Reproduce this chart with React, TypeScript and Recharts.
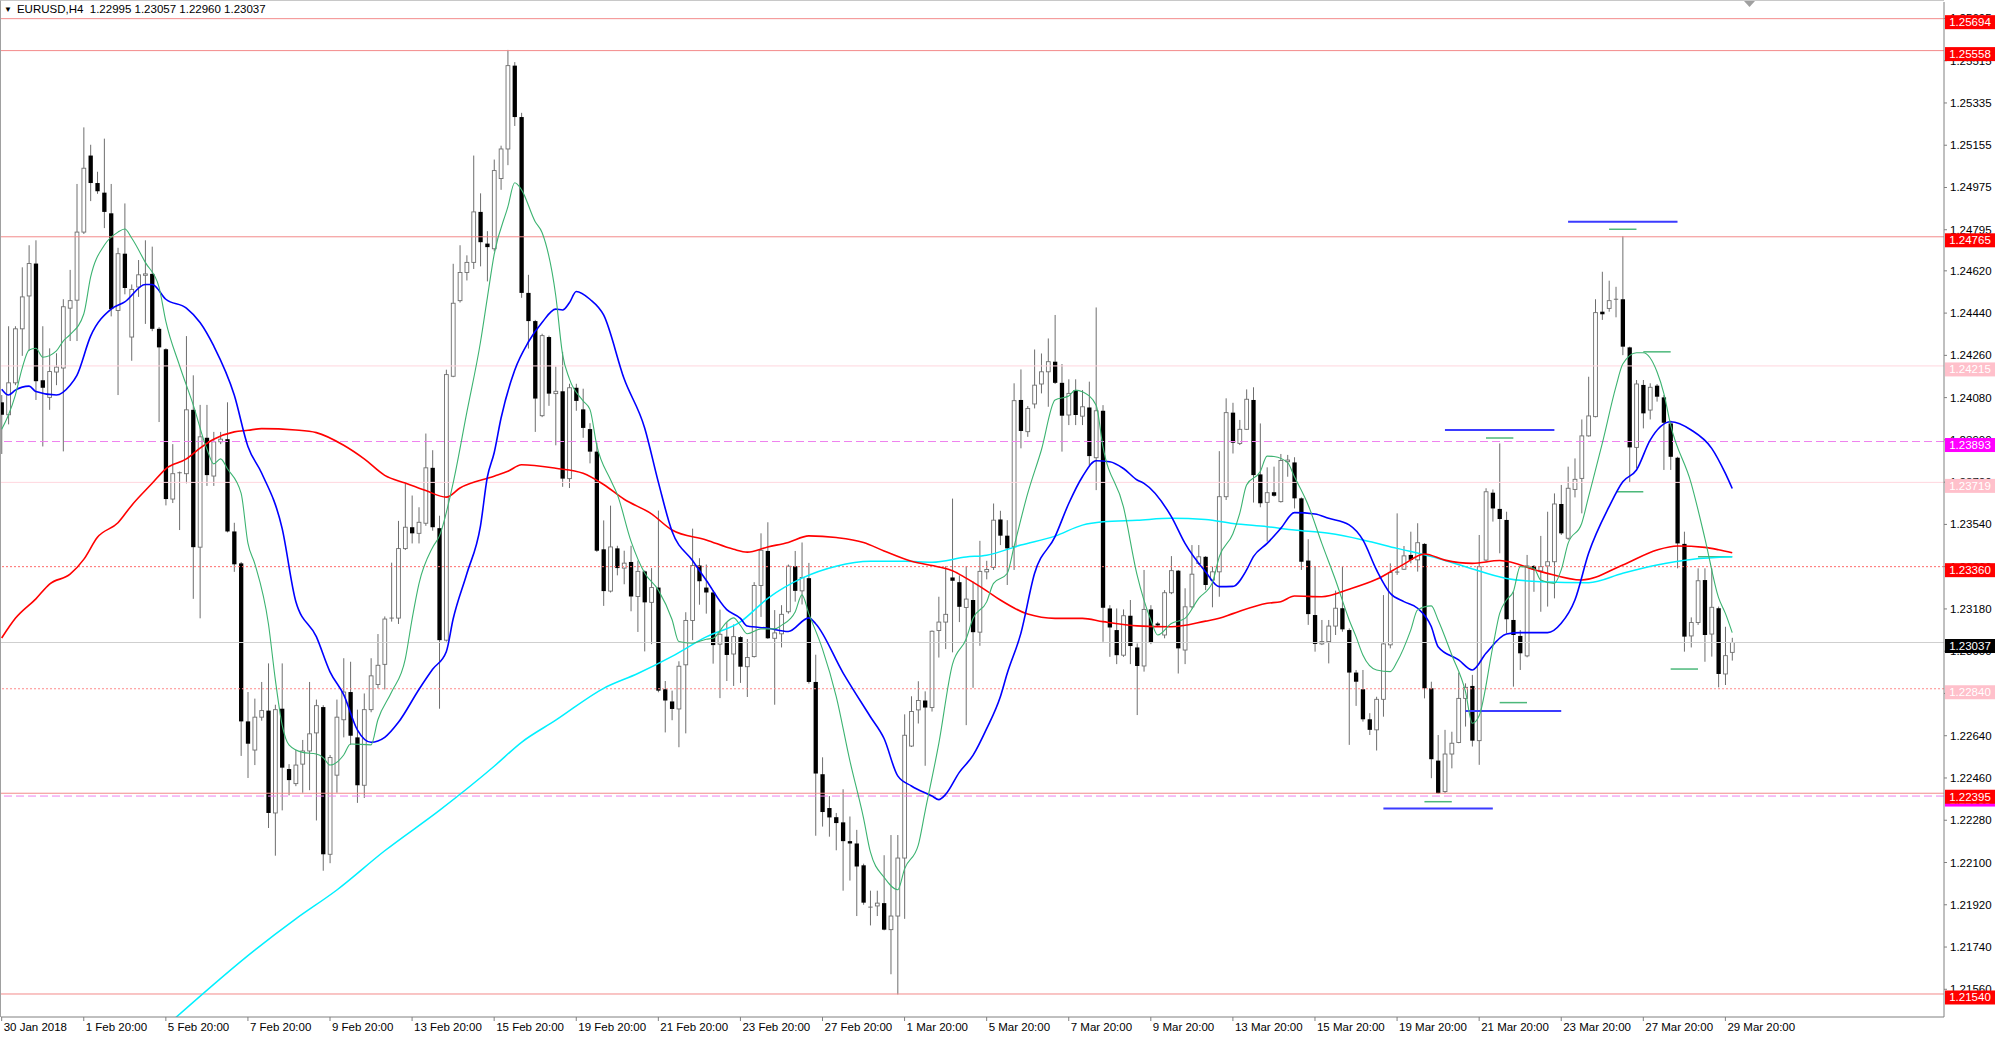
import { ComposedChart, Bar, Line, XAxis, YAxis, ReferenceLine } from 'recharts';

const FONT = '"Liberation Sans", Arial, sans-serif';

const symbol = 'EURUSD,H4';

// H4 candles, [open, high, low, close], 30 Jan 2018 20:00 .. 30 Mar 2018 00:00
const candles: [number, number, number, number][] = [
  [1.24060, 1.24091, 1.23840, 1.24007], [1.24007, 1.24384, 1.23966, 1.24143], [1.24143, 1.24384, 1.24133, 1.24373],
  [1.24373, 1.24635, 1.24258, 1.24509], [1.24513, 1.24729, 1.24279, 1.24651], [1.24651, 1.24750, 1.24070, 1.24150],
  [1.24154, 1.24384, 1.23872, 1.24122], [1.24081, 1.24290, 1.24028, 1.24191], [1.24189, 1.24269, 1.24133, 1.24210],
  [1.24206, 1.24499, 1.23851, 1.24467], [1.24461, 1.24624, 1.24321, 1.24493], [1.24495, 1.24990, 1.24321, 1.24785],
  [1.24785, 1.25231, 1.24777, 1.25057], [1.25111, 1.25157, 1.24917, 1.24994], [1.24994, 1.25042, 1.24948, 1.24959],
  [1.24953, 1.25183, 1.24802, 1.24871], [1.24865, 1.24990, 1.24426, 1.24457], [1.24451, 1.24718, 1.24091, 1.24693],
  [1.24693, 1.24907, 1.24520, 1.24547], [1.24338, 1.24562, 1.24237, 1.24541], [1.24551, 1.24666, 1.24509, 1.24603],
  [1.24601, 1.24750, 1.24394, 1.24607], [1.24607, 1.24723, 1.24363, 1.24373], [1.24373, 1.24380, 1.23976, 1.24294],
  [1.24286, 1.24290, 1.23621, 1.23648], [1.23648, 1.23882, 1.23631, 1.23756], [1.23756, 1.23765, 1.23516, 1.23760],
  [1.23756, 1.24342, 1.23715, 1.24028], [1.24028, 1.24175, 1.23223, 1.23443], [1.23443, 1.24049, 1.23140, 1.23913],
  [1.23909, 1.24049, 1.23704, 1.23750], [1.23746, 1.23934, 1.23704, 1.23892], [1.23892, 1.23934, 1.23882, 1.23903],
  [1.23903, 1.24060, 1.23506, 1.23510], [1.23510, 1.23547, 1.23338, 1.23370], [1.23374, 1.23380, 1.22554, 1.22701],
  [1.22701, 1.22826, 1.22460, 1.22606], [1.22579, 1.22798, 1.22515, 1.22719], [1.22719, 1.22869, 1.22704, 1.22747],
  [1.22747, 1.22948, 1.22247, 1.22311], [1.22311, 1.22772, 1.22129, 1.22751], [1.22755, 1.22948, 1.22322, 1.22504],
  [1.22498, 1.22519, 1.22386, 1.22451], [1.22436, 1.22579, 1.22425, 1.22515], [1.22519, 1.22622, 1.22397, 1.22575],
  [1.22575, 1.22869, 1.22408, 1.22648], [1.22652, 1.22794, 1.22279, 1.22768], [1.22762, 1.22770, 1.22065, 1.22135],
  [1.22135, 1.22558, 1.22097, 1.22547], [1.22472, 1.22794, 1.22397, 1.22719], [1.22708, 1.22970, 1.22633, 1.22826],
  [1.22826, 1.22955, 1.22601, 1.22640], [1.22633, 1.22751, 1.22354, 1.22429], [1.22429, 1.22820, 1.22375, 1.22751],
  [1.22751, 1.22970, 1.22740, 1.22895], [1.22858, 1.23073, 1.22841, 1.22940], [1.22944, 1.23148, 1.22837, 1.23137],
  [1.23137, 1.23377, 1.23126, 1.23141], [1.23141, 1.23555, 1.23116, 1.23437], [1.23437, 1.23712, 1.23431, 1.23528],
  [1.23528, 1.23663, 1.23459, 1.23502], [1.23502, 1.23613, 1.23459, 1.23549], [1.23545, 1.23927, 1.23534, 1.23781],
  [1.23781, 1.23856, 1.23513, 1.23528], [1.23524, 1.23577, 1.22755, 1.23047], [1.23047, 1.24199, 1.23041, 1.24178],
  [1.24171, 1.24650, 1.24167, 1.24482], [1.24493, 1.24729, 1.24485, 1.24613], [1.24613, 1.24686, 1.24579, 1.24656],
  [1.24656, 1.25111, 1.24628, 1.24871], [1.24871, 1.24950, 1.24639, 1.24742], [1.24736, 1.24789, 1.24575, 1.24721],
  [1.24714, 1.25094, 1.24703, 1.25047], [1.25013, 1.25153, 1.24965, 1.25139], [1.25139, 1.25561, 1.25070, 1.25494],
  [1.25494, 1.25509, 1.25237, 1.25275], [1.25275, 1.25293, 1.24505, 1.24526], [1.24526, 1.24603, 1.24289, 1.24406],
  [1.24406, 1.24411, 1.23934, 1.24076], [1.24003, 1.24352, 1.23997, 1.24344], [1.24338, 1.24344, 1.24045, 1.24097],
  [1.24097, 1.24212, 1.23877, 1.24107], [1.24107, 1.24275, 1.23700, 1.23735], [1.23735, 1.24139, 1.23695, 1.24122],
  [1.24122, 1.24139, 1.24024, 1.24066], [1.24030, 1.24118, 1.23909, 1.23951], [1.23946, 1.23971, 1.23800, 1.23850],
  [1.23850, 1.23888, 1.23423, 1.23428], [1.23434, 1.23557, 1.23193, 1.23256], [1.23256, 1.23620, 1.23250, 1.23444],
  [1.23438, 1.23449, 1.23323, 1.23354], [1.23354, 1.23428, 1.23285, 1.23375], [1.23380, 1.23449, 1.23170, 1.23233],
  [1.23233, 1.23386, 1.23082, 1.23340], [1.23340, 1.23344, 1.22999, 1.23208], [1.23208, 1.23354, 1.23030, 1.23271],
  [1.23271, 1.23599, 1.22825, 1.22832], [1.22838, 1.22873, 1.22654, 1.22790], [1.22786, 1.22832, 1.22706, 1.22754],
  [1.22754, 1.22957, 1.22591, 1.22936], [1.22942, 1.23166, 1.22650, 1.23131], [1.23131, 1.23522, 1.23047, 1.23365],
  [1.23365, 1.23396, 1.23198, 1.23298], [1.23271, 1.23369, 1.23160, 1.23250], [1.23250, 1.23260, 1.22947, 1.23026],
  [1.23030, 1.23177, 1.22800, 1.23072], [1.23062, 1.23124, 1.22873, 1.22984], [1.22988, 1.23114, 1.22852, 1.23062],
  [1.23060, 1.23064, 1.22865, 1.22934], [1.22934, 1.23052, 1.22805, 1.22973], [1.22977, 1.23294, 1.22973, 1.23280],
  [1.23280, 1.23502, 1.23146, 1.23430], [1.23427, 1.23549, 1.23052, 1.23055], [1.23055, 1.23175, 1.22772, 1.23078],
  [1.23074, 1.23196, 1.23016, 1.23157], [1.23168, 1.23369, 1.23160, 1.23362], [1.23362, 1.23427, 1.23211, 1.23257],
  [1.23257, 1.23463, 1.23199, 1.23314], [1.23311, 1.23376, 1.22862, 1.22869], [1.22869, 1.22985, 1.22214, 1.22479],
  [1.22476, 1.22548, 1.22253, 1.22315], [1.22332, 1.22383, 1.22210, 1.22292], [1.22293, 1.22311, 1.22152, 1.22268],
  [1.22271, 1.22412, 1.21980, 1.22191], [1.22191, 1.22296, 1.22023, 1.22181], [1.22181, 1.22239, 1.21872, 1.22083],
  [1.22088, 1.22095, 1.21920, 1.21929], [1.21908, 1.21980, 1.21832, 1.21910], [1.21915, 1.21980, 1.21872, 1.21927],
  [1.21927, 1.22131, 1.21811, 1.21814], [1.21814, 1.22217, 1.21624, 1.21872], [1.21872, 1.22217, 1.21538, 1.22119],
  [1.22119, 1.22731, 1.21860, 1.22642], [1.22596, 1.22808, 1.22592, 1.22743], [1.22750, 1.22872, 1.22692, 1.22790],
  [1.22790, 1.22829, 1.22512, 1.22760], [1.22760, 1.23088, 1.22743, 1.23085], [1.23088, 1.23232, 1.22973, 1.23124],
  [1.23124, 1.23362, 1.23009, 1.23157], [1.23314, 1.23650, 1.22995, 1.23300], [1.23294, 1.23323, 1.23124, 1.23189],
  [1.23186, 1.23362, 1.22685, 1.23222], [1.23218, 1.23297, 1.22844, 1.23081], [1.23081, 1.23470, 1.23023, 1.23340],
  [1.23338, 1.23385, 1.23306, 1.23348], [1.23357, 1.23629, 1.23346, 1.23558], [1.23561, 1.23598, 1.23452, 1.23492],
  [1.23492, 1.23558, 1.23282, 1.23438], [1.23445, 1.24141, 1.23346, 1.24067], [1.24070, 1.24200, 1.23864, 1.23938],
  [1.23935, 1.24044, 1.23913, 1.24034], [1.24053, 1.24285, 1.24034, 1.24133], [1.24138, 1.24268, 1.24098, 1.24190],
  [1.24190, 1.24332, 1.24041, 1.24233], [1.24233, 1.24432, 1.24138, 1.24143], [1.24143, 1.24223, 1.23850, 1.24003],
  [1.24006, 1.24158, 1.23963, 1.24098], [1.24112, 1.24158, 1.23963, 1.24006], [1.24001, 1.24112, 1.23963, 1.24041],
  [1.24038, 1.24148, 1.23788, 1.23831], [1.23824, 1.24464, 1.23686, 1.24024], [1.24024, 1.24048, 1.23040, 1.23185],
  [1.23182, 1.23196, 1.22976, 1.23101], [1.23090, 1.23182, 1.22945, 1.22983], [1.22983, 1.23178, 1.22976, 1.23151],
  [1.23151, 1.23218, 1.22945, 1.23022], [1.23016, 1.23033, 1.22728, 1.22937], [1.22937, 1.23346, 1.22913, 1.23178],
  [1.23178, 1.23196, 1.23030, 1.23036], [1.23118, 1.23125, 1.23104, 1.23110], [1.23069, 1.23260, 1.23055, 1.23249],
  [1.23249, 1.23405, 1.23243, 1.23343], [1.23343, 1.23346, 1.22905, 1.23012], [1.23005, 1.23268, 1.22945, 1.23189],
  [1.23189, 1.23452, 1.23182, 1.23328], [1.23374, 1.23452, 1.23367, 1.23402], [1.23402, 1.23405, 1.23260, 1.23282],
  [1.23303, 1.23360, 1.23187, 1.23338], [1.23338, 1.23852, 1.23232, 1.23658], [1.23658, 1.24077, 1.23644, 1.24016],
  [1.24016, 1.24058, 1.23842, 1.23888], [1.23885, 1.23985, 1.23878, 1.23945], [1.23945, 1.24115, 1.23942, 1.24073],
  [1.24070, 1.24124, 1.23633, 1.23750], [1.23753, 1.23970, 1.23613, 1.23630], [1.23634, 1.23783, 1.23467, 1.23675],
  [1.23677, 1.23786, 1.23658, 1.23662], [1.23637, 1.23840, 1.23633, 1.23812], [1.23807, 1.23836, 1.23743, 1.23814],
  [1.23804, 1.23826, 1.23608, 1.23651], [1.23651, 1.23655, 1.23346, 1.23381], [1.23386, 1.23477, 1.23112, 1.23158],
  [1.23154, 1.23363, 1.22998, 1.23031], [1.23031, 1.23133, 1.23026, 1.23041], [1.23041, 1.23133, 1.22948, 1.23107],
  [1.23107, 1.23258, 1.23069, 1.23183], [1.23183, 1.23363, 1.23083, 1.23093], [1.23090, 1.23097, 1.22601, 1.22909],
  [1.22909, 1.22920, 1.22767, 1.22870], [1.22838, 1.22920, 1.22700, 1.22710], [1.22710, 1.22736, 1.22643, 1.22665],
  [1.22665, 1.22806, 1.22577, 1.22795], [1.22795, 1.23239, 1.22721, 1.23031], [1.23027, 1.23374, 1.23012, 1.23335],
  [1.23335, 1.23587, 1.23325, 1.23337], [1.23349, 1.23448, 1.23346, 1.23406], [1.23410, 1.23509, 1.23374, 1.23389],
  [1.23389, 1.23545, 1.23339, 1.23462], [1.23457, 1.23460, 1.22799, 1.22842], [1.22842, 1.22870, 1.22459, 1.22540],
  [1.22534, 1.22643, 1.22392, 1.22395], [1.22402, 1.22665, 1.22395, 1.22562], [1.22562, 1.22657, 1.22501, 1.22608],
  [1.22611, 1.22909, 1.22608, 1.22799], [1.22799, 1.22863, 1.22679, 1.22846], [1.22852, 1.22899, 1.22594, 1.22619],
  [1.22619, 1.23495, 1.22516, 1.23360], [1.23388, 1.23694, 1.23381, 1.23679], [1.23675, 1.23689, 1.23552, 1.23608],
  [1.23606, 1.23885, 1.23417, 1.23563], [1.23559, 1.23594, 1.23076, 1.23136], [1.23133, 1.23254, 1.22849, 1.23069],
  [1.23065, 1.23090, 1.22920, 1.22991], [1.22980, 1.23410, 1.22974, 1.23363], [1.23363, 1.23367, 1.23253, 1.23346],
  [1.23342, 1.23491, 1.23168, 1.23360], [1.23363, 1.23594, 1.23190, 1.23381], [1.23381, 1.23672, 1.23225, 1.23627],
  [1.23627, 1.23708, 1.23495, 1.23502], [1.23481, 1.23786, 1.23474, 1.23694], [1.23689, 1.23821, 1.23655, 1.23732],
  [1.23736, 1.23987, 1.23587, 1.23917], [1.23917, 1.24169, 1.23914, 1.24002], [1.23999, 1.24499, 1.23996, 1.24442],
  [1.24446, 1.24616, 1.24411, 1.24435], [1.24460, 1.24578, 1.24446, 1.24493], [1.24496, 1.24552, 1.24422, 1.24499],
  [1.24499, 1.24768, 1.24261, 1.24297], [1.24294, 1.24297, 1.23718, 1.23868], [1.23868, 1.24155, 1.23779, 1.24138],
  [1.24134, 1.24155, 1.23949, 1.24013], [1.24027, 1.24141, 1.23987, 1.24124], [1.24131, 1.24138, 1.24063, 1.24084],
  [1.24081, 1.24091, 1.23772, 1.23973], [1.23970, 1.23982, 1.23772, 1.23828], [1.23824, 1.23828, 1.23353, 1.23459],
  [1.23457, 1.23509, 1.22998, 1.23062], [1.23065, 1.23144, 1.23016, 1.23122], [1.23122, 1.23353, 1.23112, 1.23300],
  [1.23303, 1.23353, 1.22955, 1.23069], [1.23073, 1.23353, 1.22977, 1.23187], [1.23183, 1.23190, 1.22846, 1.22903],
  [1.22903, 1.23104, 1.22856, 1.22981], [1.22995, 1.23057, 1.22960, 1.23037],
];

// moving averages: [bar index, price]
const maFast: [number, number][] = [
  [0, 1.23945], [1, 1.24007], [2, 1.24091], [3, 1.24206], [4, 1.24283], [5, 1.24290], [6, 1.24252], [8, 1.24279],
  [9, 1.24321], [10, 1.24348], [12, 1.24436], [13, 1.24593], [15, 1.24729], [17, 1.24785], [18, 1.24798], [19, 1.24760],
  [21, 1.24656], [23, 1.24551], [24, 1.24405], [26, 1.24217], [28, 1.24049], [30, 1.23861], [31, 1.23798], [32, 1.23819],
  [33, 1.23777], [35, 1.23673], [36, 1.23460], [37, 1.23373], [39, 1.23116], [40, 1.22880], [41, 1.22686], [42, 1.22601],
  [44, 1.22569], [46, 1.22562], [47, 1.22547], [48, 1.22515], [50, 1.22558], [51, 1.22605], [54, 1.22601], [55, 1.22708],
  [57, 1.22826], [59, 1.22966], [60, 1.23137], [61, 1.23287], [63, 1.23442], [64, 1.23491], [66, 1.23716], [68, 1.24017],
  [70, 1.24317], [71, 1.24505], [72, 1.24690], [74, 1.24892], [75, 1.24995], [76, 1.24965], [78, 1.24829], [79, 1.24783],
  [81, 1.24515], [82, 1.24264], [83, 1.24160], [85, 1.24066], [86, 1.24030], [87, 1.23877], [89, 1.23731], [90, 1.23668],
  [92, 1.23469], [94, 1.23333], [96, 1.23260], [98, 1.23135], [99, 1.23041], [101, 1.23034], [103, 1.23051], [104, 1.23055],
  [106, 1.23124], [107, 1.23142], [108, 1.23110], [109, 1.23074], [111, 1.23095], [113, 1.23095], [114, 1.23110],
  [116, 1.23167], [117, 1.23240], [118, 1.23160], [120, 1.23009], [122, 1.22808], [124, 1.22534], [126, 1.22289],
  [127, 1.22145], [129, 1.22037], [131, 1.21984], [132, 1.22073], [134, 1.22174], [135, 1.22318], [137, 1.22606],
  [139, 1.22944], [141, 1.23052], [142, 1.23139], [144, 1.23210], [145, 1.23289], [147, 1.23331], [148, 1.23445],
  [150, 1.23672], [152, 1.23857], [154, 1.24070], [156, 1.24087], [157, 1.24112], [158, 1.24105], [160, 1.24048],
  [161, 1.23871], [164, 1.23615], [166, 1.23324], [168, 1.23133], [169, 1.23069], [171, 1.23118], [173, 1.23140],
  [175, 1.23225], [177, 1.23292], [178, 1.23402], [180, 1.23500], [181, 1.23587], [182, 1.23708], [184, 1.23765],
  [185, 1.23831], [186, 1.23829], [188, 1.23803], [189, 1.23743], [191, 1.23623], [193, 1.23459], [195, 1.23303],
  [197, 1.23133], [198, 1.23062], [199, 1.22984], [201, 1.22920], [203, 1.22913], [204, 1.22955], [206, 1.23090],
  [207, 1.23176], [209, 1.23193], [210, 1.23133], [212, 1.22984], [214, 1.22828], [215, 1.22693], [216, 1.22725],
  [218, 1.23019], [219, 1.23161], [220, 1.23218], [221, 1.23254], [222, 1.23360], [224, 1.23353], [225, 1.23303],
  [227, 1.23289], [228, 1.23346], [229, 1.23459], [231, 1.23545], [232, 1.23658], [234, 1.23885], [236, 1.24127],
  [237, 1.24223], [239, 1.24271], [240, 1.24271], [242, 1.24190], [243, 1.24098], [244, 1.23963], [247, 1.23715],
  [249, 1.23481], [251, 1.23228], [252, 1.23161], [253, 1.23079],
];

const maMid: [number, number][] = [
  [0, 1.24116], [1, 1.24091], [2, 1.24112], [4, 1.24129], [5, 1.24106], [8, 1.24091], [10, 1.24133], [11, 1.24175],
  [13, 1.24342], [16, 1.24457], [18, 1.24488], [21, 1.24562], [22, 1.24562], [24, 1.24499], [27, 1.24461], [29, 1.24400],
  [31, 1.24300], [34, 1.24091], [36, 1.23872], [38, 1.23759], [41, 1.23523], [43, 1.23212], [46, 1.23062], [48, 1.22912],
  [50, 1.22815], [52, 1.22665], [54, 1.22612], [56, 1.22633], [58, 1.22697], [61, 1.22837], [63, 1.22923], [65, 1.22998],
  [66, 1.23137], [68, 1.23330], [70, 1.23534], [71, 1.23741], [72, 1.23845], [73, 1.23992], [75, 1.24197], [77, 1.24317],
  [79, 1.24400], [81, 1.24457], [82, 1.24453], [83, 1.24484], [84, 1.24532], [86, 1.24499], [88, 1.24432], [91, 1.24160],
  [94, 1.23951], [96, 1.23720], [98, 1.23511], [101, 1.23386], [103, 1.23302], [106, 1.23177], [108, 1.23140],
  [109, 1.23107], [112, 1.23098], [115, 1.23084], [118, 1.23142], [119, 1.23117], [123, 1.22908], [127, 1.22721],
  [129, 1.22628], [131, 1.22469], [133, 1.22426], [136, 1.22383], [137, 1.22368], [138, 1.22390], [140, 1.22484],
  [142, 1.22556], [144, 1.22670], [146, 1.22806], [147, 1.22905], [149, 1.23076], [151, 1.23331], [154, 1.23488],
  [156, 1.23629], [158, 1.23743], [160, 1.23811], [162, 1.23807], [164, 1.23778], [166, 1.23729], [167, 1.23715],
  [171, 1.23573], [173, 1.23459], [176, 1.23338], [178, 1.23275], [180, 1.23276], [182, 1.23346], [183, 1.23403],
  [185, 1.23459], [187, 1.23523], [189, 1.23590], [192, 1.23584], [194, 1.23566], [197, 1.23538], [199, 1.23474],
  [201, 1.23346], [203, 1.23247], [205, 1.23211], [207, 1.23183], [209, 1.23105], [210, 1.23019], [213, 1.22963],
  [215, 1.22920], [217, 1.22991], [220, 1.23073], [222, 1.23079], [226, 1.23079], [228, 1.23119], [230, 1.23218],
  [232, 1.23417], [235, 1.23616], [237, 1.23722], [239, 1.23772], [241, 1.23899], [244, 1.23977], [247, 1.23942],
  [250, 1.23864], [252, 1.23757], [253, 1.23693],
];

const maSlow: [number, number][] = [
  [0, 1.23056], [2, 1.23140], [5, 1.23223], [7, 1.23286], [10, 1.23328], [12, 1.23391], [14, 1.23485], [17, 1.23547],
  [19, 1.23621], [22, 1.23715], [24, 1.23777], [27, 1.23819], [29, 1.23865], [31, 1.23903], [34, 1.23934], [36, 1.23941],
  [38, 1.23948], [43, 1.23942], [46, 1.23931], [50, 1.23877], [53, 1.23819], [56, 1.23749], [59, 1.23716], [62, 1.23684],
  [65, 1.23656], [67, 1.23695], [72, 1.23745], [74, 1.23766], [76, 1.23794], [81, 1.23779], [85, 1.23758], [88, 1.23710],
  [91, 1.23647], [95, 1.23585], [98, 1.23516], [103, 1.23474], [107, 1.23434], [109, 1.23422], [112, 1.23444],
  [115, 1.23463], [118, 1.23491], [122, 1.23484], [126, 1.23463], [129, 1.23427], [133, 1.23383], [137, 1.23359],
  [139, 1.23343], [141, 1.23311], [144, 1.23257], [146, 1.23218], [150, 1.23158], [154, 1.23140], [158, 1.23140],
  [161, 1.23126], [166, 1.23108], [171, 1.23104], [176, 1.23128], [178, 1.23140], [180, 1.23160], [185, 1.23204],
  [187, 1.23211], [189, 1.23235], [193, 1.23232], [197, 1.23264], [201, 1.23306], [205, 1.23371], [208, 1.23414],
  [211, 1.23388], [215, 1.23374], [219, 1.23386], [225, 1.23339], [231, 1.23303], [237, 1.23367], [242, 1.23431],
  [245, 1.23448], [249, 1.23442], [251, 1.23432], [253, 1.23419],
];

const maLong: [number, number][] = [
  [25, 1.21428], [37, 1.21727], [43, 1.21860], [49, 1.21983], [56, 1.22150], [64, 1.22322], [72, 1.22510], [76, 1.22612],
  [81, 1.22706], [88, 1.22842], [93, 1.22905], [98, 1.22978], [103, 1.23061], [108, 1.23125], [112, 1.23225],
  [117, 1.23311], [122, 1.23362], [127, 1.23383], [132, 1.23383], [136, 1.23379], [141, 1.23401], [144, 1.23409],
  [149, 1.23452], [154, 1.23490], [158, 1.23537], [161, 1.23551], [166, 1.23558], [171, 1.23566], [176, 1.23561],
  [180, 1.23544], [185, 1.23530], [189, 1.23516], [194, 1.23502], [199, 1.23474], [204, 1.23438], [209, 1.23403],
  [214, 1.23360], [220, 1.23310], [225, 1.23296], [232, 1.23292], [237, 1.23332], [242, 1.23367], [247, 1.23391],
  [253, 1.23402],
];

// short level markers: [from bar, to bar, price]
const blueLevels: [number, number, number][] = [
  [229, 245, 1.24829], [211, 227, 1.23942], [214, 228, 1.22745], [202, 218, 1.22330],
];
const greenLevels: [number, number, number][] = [
  [235, 239, 1.24797], [240, 244, 1.24275], [236, 240, 1.23679], [244, 248, 1.22924],
  [248, 253, 1.23402], [217, 221, 1.23908], [219, 223, 1.22781], [208, 212, 1.22359],
];

// horizontal price lines with their axis tags
const levels = [1.25694, 1.25558, 1.24765, 1.24215, 1.23893, 1.23719, 1.23360, 1.23037, 1.22840, 1.22383, 1.22395, 1.21540];

const priceTicks = [
  1.25695, 1.25515, 1.25335, 1.25155, 1.24975, 1.24795, 1.24620, 1.24440, 1.24260, 1.24080, 1.23900, 1.23720,
  1.23540, 1.23360, 1.23180, 1.23000, 1.22820, 1.22640, 1.22460, 1.22280, 1.22100, 1.21920, 1.21740, 1.21560,
];

const dateTicks = [0, 12, 24, 36, 48, 60, 72, 84, 96, 108, 120, 132, 144, 156, 168, 180, 192, 204, 216, 228, 240, 252];
const dateLabels = [
  '30 Jan 2018', '1 Feb 20:00', '5 Feb 20:00', '7 Feb 20:00', '9 Feb 20:00', '13 Feb 20:00', '15 Feb 20:00',
  '19 Feb 20:00', '21 Feb 20:00', '23 Feb 20:00', '27 Feb 20:00', '1 Mar 20:00', '5 Mar 20:00', '7 Mar 20:00',
  '9 Mar 20:00', '13 Mar 20:00', '15 Mar 20:00', '19 Mar 20:00', '21 Mar 20:00', '23 Mar 20:00', '27 Mar 20:00',
  '29 Mar 20:00',
];

const X_DOMAIN: [number, number] = [-0.1, 283.96];
const Y_DOMAIN: [number, number] = [1.21442, 1.25765];
const MARGIN = { top: 2, right: 0, bottom: 0, left: 1 };

// line look for each entry of `levels`
const levelStyle = [
  { stroke: '#f38b8b', dash: undefined, tag: '#ff0000' },
  { stroke: '#f38b8b', dash: undefined, tag: '#ff0000' },
  { stroke: '#f38b8b', dash: undefined, tag: '#ff0000' },
  { stroke: '#ffd6de', dash: undefined, tag: '#ffc0cb' },
  { stroke: '#ee82ee', dash: '8 4', tag: '#ff00ff' },
  { stroke: '#ffd6de', dash: undefined, tag: '#ffc0cb' },
  { stroke: '#ff6a6a', dash: '2 2', tag: '#ff0000' },
  { stroke: '#cfcfcf', dash: undefined, tag: '#000000' },
  { stroke: '#ff8a8a', dash: '2 2', tag: '#ffc0cb' },
  { stroke: '#ee82ee', dash: '8 4', tag: '#ff00ff' },
  { stroke: '#f38b8b', dash: undefined, tag: '#ff0000' },
  { stroke: '#f38b8b', dash: undefined, tag: '#ff0000' },
];

type Row = { i: number; o: number; h: number; l: number; c: number; fast?: number; mid?: number; slow?: number; long?: number };

const rows: Row[] = candles.map(([o, h, l, c], i) => ({ i, o, h, l, c }));
maFast.forEach(([i, v]) => { rows[i].fast = v; });
maMid.forEach(([i, v]) => { rows[i].mid = v; });
maSlow.forEach(([i, v]) => { rows[i].slow = v; });
maLong.forEach(([i, v]) => { rows[i].long = v; });

function Candle(props: any) {
  const { x, y, width, height, payload } = props;
  if (x == null || !payload) return null;
  const top = Math.min(y, y + height);
  const span = Math.abs(height);
  const { o, h, l, c } = payload as Row;
  const k = h > l ? span / (h - l) : 0;
  const py = (v: number) => top + (h - v) * k;
  const cx = x + width / 2;
  const bTop = py(Math.max(o, c));
  const bBot = py(Math.min(o, c));
  const up = c >= o;
  return (
    <g>
      <line x1={cx} x2={cx} y1={top} y2={top + span} stroke="#6e6e6e" strokeWidth={1} />
      {bBot - bTop < 1 ? (
        <line x1={cx - 2.2} x2={cx + 2.2} y1={bTop} y2={bTop} stroke={up ? '#6e6e6e' : '#000'} strokeWidth={1} />
      ) : up ? (
        <rect x={cx - 1.9} y={bTop} width={3.8} height={bBot - bTop} fill="#fff" stroke="#6e6e6e" strokeWidth={0.9} />
      ) : (
        <rect x={cx - 2.15} y={bTop} width={4.3} height={bBot - bTop} fill="#000" />
      )}
    </g>
  );
}

function PriceTick(props: any) {
  const { x, y, payload } = props;
  return (
    <text x={x} y={y} dy={4} fontSize={11.5} fontFamily={FONT} fill="#000" textAnchor="start">
      {Number(payload.value).toFixed(5)}
    </text>
  );
}

function DateTick(props: any) {
  const { x, y, payload } = props;
  const k = dateTicks.indexOf(payload.value);
  return (
    <text x={x + 2} y={y} dy="0.71em" fontSize={11.5} fontFamily={FONT} fill="#000" textAnchor="start">
      {dateLabels[k]}
    </text>
  );
}

function PriceTag(props: any) {
  const { viewBox, text, bg } = props;
  if (!viewBox) return null;
  const x = viewBox.x + viewBox.width + 1;
  const y = viewBox.y + 3.5;
  return (
    <g>
      <rect x={x} y={y - 7} width={50} height={14} fill={bg} />
      <text x={x + 25} y={y} dy={4} textAnchor="middle" fontSize={11.5} fontFamily={FONT} fill="#fff">
        {text}
      </text>
    </g>
  );
}

export default function App() {
  const last = candles[candles.length - 1];
  return (
    <div style={{ position: 'absolute', left: 0, top: 0, width: 2000, height: 1039, background: '#fff', overflow: 'hidden' }}>
      <ComposedChart width={2000} height={1039} data={rows} margin={MARGIN}>
        <XAxis
          dataKey="i"
          type="number"
          domain={X_DOMAIN}
          allowDataOverflow
          ticks={dateTicks}
          interval={0}
          tick={<DateTick />}
          tickSize={4}
          tickMargin={2}
          height={22}
          axisLine={{ stroke: '#808080' }}
          tickLine={{ stroke: '#808080' }}
        />
        <YAxis
          orientation="right"
          type="number"
          domain={Y_DOMAIN}
          allowDataOverflow
          ticks={priceTicks}
          interval={0}
          tick={<PriceTick />}
          tickSize={3}
          tickMargin={3}
          width={56}
          axisLine={{ stroke: '#808080' }}
          tickLine={{ stroke: '#808080' }}
        />
        {levels.map((p, k) => (
          <ReferenceLine
            key={'lv' + k}
            y={p}
            stroke={levelStyle[k].stroke}
            strokeDasharray={levelStyle[k].dash}
            strokeWidth={1}
          />
        ))}
        {blueLevels.map(([a, b, p], k) => (
          <ReferenceLine key={'bl' + k} segment={[{ x: a, y: p }, { x: b, y: p }]} stroke="#3b3bff" strokeWidth={2} />
        ))}
        {greenLevels.map(([a, b, p], k) => (
          <ReferenceLine key={'gl' + k} segment={[{ x: a, y: p }, { x: b, y: p }]} stroke="#4cb87a" strokeWidth={1.5} />
        ))}
        <Bar dataKey={(r: Row) => [r.l, r.h]} shape={<Candle />} barSize={5} isAnimationActive={false} />
        <Line dataKey="long" type="monotone" stroke="#00f0ff" strokeWidth={1.5} dot={false} connectNulls isAnimationActive={false} />
        <Line dataKey="slow" type="monotone" stroke="#ff0000" strokeWidth={1.6} dot={false} connectNulls isAnimationActive={false} />
        <Line dataKey="mid" type="monotone" stroke="#0000ff" strokeWidth={1.6} dot={false} connectNulls isAnimationActive={false} />
        <Line dataKey="fast" type="monotone" stroke="#3cb371" strokeWidth={1.1} dot={false} connectNulls isAnimationActive={false} />
      </ComposedChart>

      {/* price tags sit above the axis labels, as in the terminal */}
      <div style={{ position: 'absolute', left: 0, top: 0 }}>
        <ComposedChart width={2000} height={1039} data={rows} margin={MARGIN}>
          <XAxis dataKey="i" type="number" domain={X_DOMAIN} allowDataOverflow height={22} tick={false} axisLine={false} tickLine={false} />
          <YAxis orientation="right" type="number" domain={Y_DOMAIN} allowDataOverflow width={56} tick={false} axisLine={false} tickLine={false} />
          {levels.map((p, k) => (
            <ReferenceLine
              key={'tag' + k}
              y={p}
              stroke="none"
              label={<PriceTag text={p.toFixed(5)} bg={levelStyle[k].tag} />}
            />
          ))}
        </ComposedChart>
      </div>

      <div style={{ position: 'absolute', left: 0, top: 0, width: 1944, height: 1017, borderLeft: '1px solid #a0a0a0', borderTop: '1px solid #c8c8c8', boxSizing: 'border-box', pointerEvents: 'none' }} />
      <div style={{ position: 'absolute', left: 4, top: 3, fontFamily: FONT, fontSize: 11.5, color: '#000', whiteSpace: 'pre' }}>
        <span style={{ fontSize: 8, marginRight: 5, position: 'relative', top: -1 }}>▼</span>
        {symbol + '  ' + last[0].toFixed(5) + ' ' + last[1].toFixed(5) + ' ' + last[2].toFixed(5) + ' ' + last[3].toFixed(5)}
      </div>
      <svg style={{ position: 'absolute', left: 1744, top: 1 }} width={12} height={7}>
        <polygon points="0,0 11,0 5.5,6" fill="#a0a0a0" />
      </svg>
    </div>
  );
}
